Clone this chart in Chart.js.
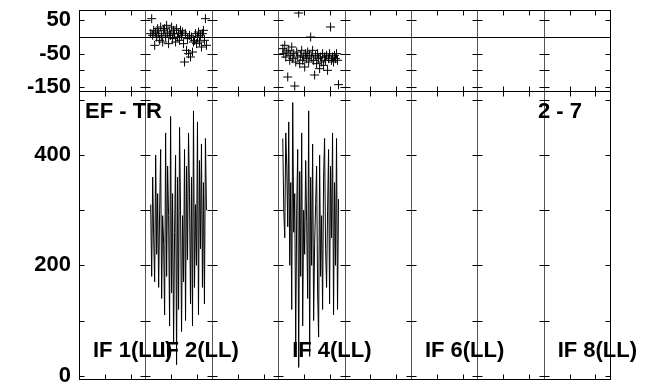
<!DOCTYPE html>
<html lang="en">
<head>
  <meta charset="UTF-8">
  <title>EF - TR</title>
  <script src="https://cdn.jsdelivr.net/npm/chart.js"></script>
  <style>
    body { margin: 0; background: #fff; }
    .chart { width: 647px; height: 390px; }
  </style>
</head>
<body>
  <div class="chart">
    <canvas id="efChart"></canvas>
  </div>

<script>
  // sample positions (x in IF units, segment n spans n-1 .. n)
  const if2Times = [1.080,1.095,1.110,1.125,1.140,1.155,1.170,1.185,1.200,1.215,1.230,1.245,1.260,1.275,1.290,1.305,1.320,1.335,1.350,1.365,1.380,1.395,1.410,1.425,1.440,1.455,1.470,1.485,1.500,1.515,1.530,1.545,1.560,1.575,1.590,1.605,1.620,1.635,1.650,1.665,1.680,1.695,1.710,1.725,1.740,1.755,1.770,1.785,1.800,1.815,1.830,1.845,1.860,1.875,1.890,1.905,1.920];
  const if4Times = [3.070,3.085,3.100,3.115,3.130,3.145,3.160,3.175,3.190,3.205,3.220,3.235,3.250,3.265,3.280,3.295,3.310,3.325,3.340,3.355,3.370,3.385,3.400,3.415,3.430,3.445,3.460,3.475,3.490,3.505,3.520,3.535,3.550,3.565,3.580,3.595,3.610,3.625,3.640,3.655,3.670,3.685,3.700,3.715,3.730,3.745,3.760,3.775,3.790,3.805,3.820,3.835,3.850,3.865,3.880,3.895,3.910];

  // lower panel (amplitude)
  const if2Amp = [310,180,360,250,170,400,220,330,160,300, 410,140,290,240,110,440,180,380,290,90, 470,150,330,60,260,400,20,360,120,450, 300,80,290,170,410,100,380,210,440,330, 130,360,90,480,160,310,200,460,110,390, 230,420,160,350,130,430,300];
  const if4Amp = [430,300,250,440,380,270,460,200,350,120, 495,260,330,60,300,410,15,370,180,440, 90,300,220,390,280,140,480,35,360,200, 420,100,240,310,380,150,70,400,180,290, 120,360,430,230,160,300,410,130,380,250, 440,110,350,200,430,120,320];

  // upper panel (phase)
  const if2Phase = [10,55,5,20,-25,15,0,25,10,-10, 30,5,-15,20,25,0,35,10,-20,15, 5,30,-5,20,10,-15,25,0,10,-10, 20,5,15,-20,-75,10,-40,-5,-50,5, -60,0,-45,-15,-10,10,-20,0,15,-15, 5,-30,10,20,-10,55,-25];
  const if4Phase = [-35,-50,-25,-60,-45,-120,-40,-70,-55,-30, -65,-50,-147,-75,-45,-60,72,-80,-55,-40, -70,-60,-90,-50,-65,-45,-75,-55,0,-60, -40,-70,-114,-55,-80,-50,-65,-95,-60,-75, -50,-85,-60,-70,-55,-100,-65,-50,30,-70, -60,-75,-55,-65,-50,-70,-143];

  // axes
  const segCount = 8;
  const xTickOffsets = [0.39, 0.78];
  const topTicks = [-150, -100, -50, 0, 50];
  const topLabels = ['-150', '', '-50', '', '50'];
  const bottomTicks = [0, 100, 200, 300, 400, 500];
  const bottomLabels = ['0', '', '200', '', '400', ''];

  // panel text
  const ifLabels = ['IF 1(LL)', 'IF 2(LL)', 'IF 4(LL)', 'IF 6(LL)', 'IF 8(LL)'];
  const ifSegments = [0, 1, 3, 5, 7];
  const panelLeft = 'EF - TR';
  const panelRight = '2 - 7';

  const FONT = 'bold 22px "Liberation Sans", Arial, sans-serif';
  const TICK = 5;

  function pontos(xs, ys) {
    return xs.map(function (x, i) { return { x: x, y: ys[i] }; });
  }

  function linha(ctx, x1, y1, x2, y2) {
    ctx.beginPath();
    ctx.moveTo(x1, y1);
    ctx.lineTo(x2, y2);
    ctx.stroke();
  }

  // frame, segment lines and inward ticks
  const framePlugin = {
    id: 'frame',
    beforeDatasetsDraw(chart) {
      const ctx = chart.ctx;
      const a = chart.chartArea;
      const x = chart.scales.x, yT = chart.scales.yT, yB = chart.scales.yB;
      const px = v => Math.round(x.getPixelForValue(v)) + 0.5;
      const div = Math.round(yT.bottom) + 0.5;
      const top = Math.round(a.top) + 0.5, bot = Math.round(a.bottom) + 0.5;
      const left = px(0), right = px(segCount);

      ctx.save();
      ctx.lineWidth = 1;

      ctx.strokeStyle = '#555';
      for (let i = 1; i < segCount; i++) linha(ctx, px(i), top, px(i), bot);

      ctx.strokeStyle = '#000';
      for (let i = 0; i <= segCount; i++) {
        const l = i === 0 ? 0 : TICK, r = i === segCount ? 0 : TICK;
        topTicks.forEach(function (v) {
          const py = Math.round(yT.getPixelForValue(v)) + 0.5;
          linha(ctx, px(i) - l, py, px(i) + r, py);
        });
        bottomTicks.forEach(function (v) {
          const py = Math.round(yB.getPixelForValue(v)) + 0.5;
          linha(ctx, px(i) - l, py, px(i) + r, py);
        });
      }
      for (let i = 0; i < segCount; i++) {
        xTickOffsets.forEach(function (o) {
          const p = px(i + o);
          linha(ctx, p, top, p, top + TICK);
          linha(ctx, p, div - TICK, p, div + TICK);
          linha(ctx, p, bot - TICK, p, bot);
        });
      }

      const zero = Math.round(yT.getPixelForValue(0)) + 0.5;
      linha(ctx, left, zero, right, zero);
      linha(ctx, left, div, right, div);
      ctx.strokeRect(left, top, right - left, bot - top);
      ctx.restore();
    },
    afterDraw(chart) {
      const ctx = chart.ctx;
      const a = chart.chartArea;
      const x = chart.scales.x, yT = chart.scales.yT;
      ctx.save();
      ctx.font = FONT;
      ctx.fillStyle = '#000';
      ctx.textBaseline = 'alphabetic';
      ctx.textAlign = 'left';
      ctx.fillText(panelLeft, a.left + 6, yT.bottom + 27);
      ctx.textAlign = 'right';
      ctx.fillText(panelRight, a.right - 28, yT.bottom + 27);
      ctx.textAlign = 'left';
      ifLabels.forEach(function (txt, i) {
        ctx.fillText(txt, x.getPixelForValue(ifSegments[i]) + 14, a.bottom - 22);
      });
      ctx.restore();
    }
  };

  function eixoY(min, max, ticks, labels, weight) {
    return {
      type: 'linear',
      position: 'left',
      stack: 'paineis',
      stackWeight: weight,
      min: min,
      max: max,
      grid: { display: false, drawTicks: false },
      border: { display: false },
      afterBuildTicks: function (scale) {
        scale.ticks = ticks.map(function (v) { return { value: v }; });
      },
      afterFit: function (scale) {
        scale.width = 79;
        // labels may hang over the plot edges, like the original
        scale.paddingTop = 0;
        scale.paddingBottom = 0;
      },
      ticks: {
        autoSkip: false,
        padding: 8,
        color: '#000',
        font: { size: 22, weight: 'bold', family: '"Liberation Sans", Arial, sans-serif' },
        callback: function (value) {
          const i = ticks.indexOf(value);
          return i >= 0 ? labels[i] : '';
        }
      }
    };
  }

  const lineStyle = { showLine: true, pointRadius: 0, borderColor: '#000', borderWidth: 1, tension: 0, yAxisID: 'yB' };
  const crossStyle = { showLine: false, pointStyle: 'cross', pointRadius: 4.5, borderColor: '#000', borderWidth: 1, yAxisID: 'yT' };

  const config = {
    type: 'scatter',
    data: {
      datasets: [
        Object.assign({ label: 'IF 2 amp', data: pontos(if2Times, if2Amp) }, lineStyle),
        Object.assign({ label: 'IF 4 amp', data: pontos(if4Times, if4Amp) }, lineStyle),
        Object.assign({ label: 'IF 2 phase', data: pontos(if2Times, if2Phase) }, crossStyle),
        Object.assign({ label: 'IF 4 phase', data: pontos(if4Times, if4Phase) }, crossStyle)
      ]
    },
    options: {
      responsive: true,
      maintainAspectRatio: false,
      animation: false,
      layout: { padding: { top: 10, right: 37, bottom: 11, left: 0 } },
      plugins: { legend: { display: false }, tooltip: { enabled: false } },
      scales: {
        x: { type: 'linear', min: 0, max: segCount, display: false },
        yB: eixoY(-6, 516, bottomTicks, bottomLabels, 288),
        yT: eixoY(-162, 81, topTicks, topLabels, 81)
      }
    },
    plugins: [framePlugin]
  };

  new Chart(document.getElementById('efChart'), config);
</script>
</body>
</html>
